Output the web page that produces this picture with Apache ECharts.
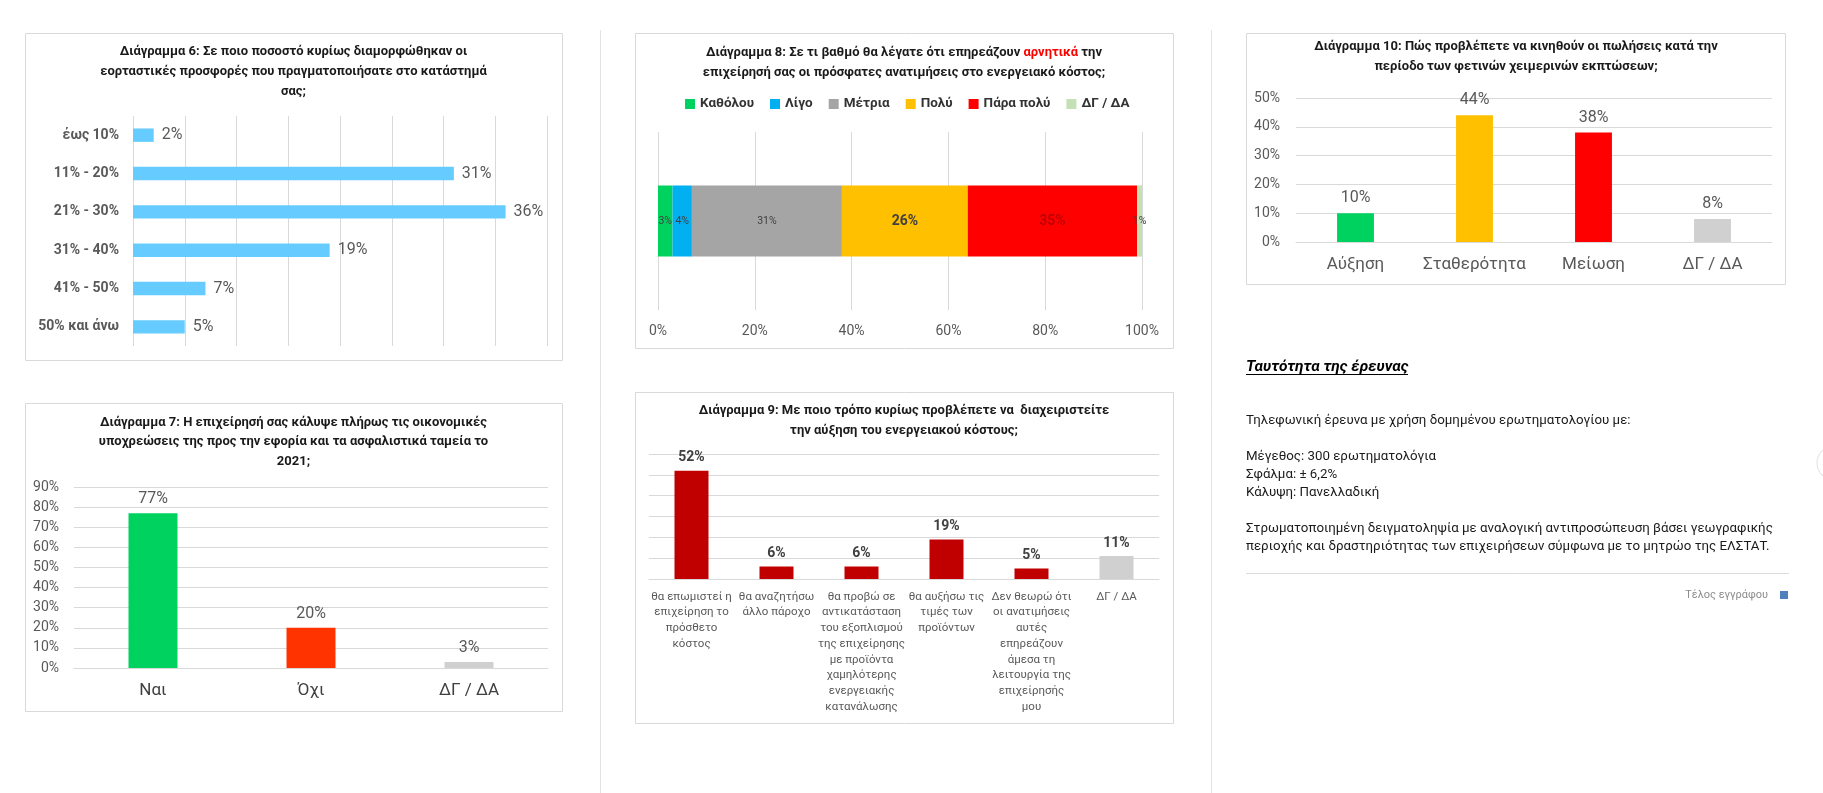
<!DOCTYPE html>
<html>
<head>
<meta charset="utf-8">
<script src="https://cdn.jsdelivr.net/npm/echarts@6/dist/echarts.min.js"></script>
<style>
html,body{margin:0;padding:0;background:#fff;}
#main{width:1823px;height:793px;}
</style>
</head>
<body>
<div id="main"></div>
<script>
// ---- data ----
const c6Categories = ['έως 10%', '11% - 20%', '21% - 30%', '31% - 40%', '41% - 50%', '50% και άνω'];
const c6Values = [2, 31, 36, 19, 7, 5];

const c7Categories = ['Ναι', 'Όχι', 'ΔΓ / ΔΑ'];
const c7Values = [77, 20, 3];

const c8Series = ['Καθόλου', 'Λίγο', 'Μέτρια', 'Πολύ', 'Πάρα πολύ', 'ΔΓ / ΔΑ'];
const c8Values = [3, 4, 31, 26, 35, 1];

const c9Categories = [
  'θα επωμιστεί η\nεπιχείρηση το\nπρόσθετο\nκόστος',
  'θα αναζητήσω\nάλλο πάροχο',
  'θα προβώ σε\nαντικατάσταση\nτου εξοπλισμού\nτης επιχείρησης\nμε προϊόντα\nχαμηλότερης\nενεργειακής\nκατανάλωσης',
  'θα αυξήσω τις\nτιμές των\nπροϊόντων',
  'Δεν θεωρώ ότι\nοι ανατιμήσεις\nαυτές\nεπηρεάζουν\nάμεσα τη\nλειτουργία της\nεπιχείρησής\nμου',
  'ΔΓ / ΔΑ'
];
const c9Values = [52, 6, 6, 19, 5, 11];

const c10Categories = ['Αύξηση', 'Σταθερότητα', 'Μείωση', 'ΔΓ / ΔΑ'];
const c10Values = [10, 44, 38, 8];

const infoLines = [
  'Τηλεφωνική έρευνα με χρήση δομημένου ερωτηματολογίου με:',
  '',
  'Μέγεθος: 300 ερωτηματολόγια',
  'Σφάλμα: ± 6,2%',
  'Κάλυψη: Πανελλαδική',
  '',
  'Στρωματοποιημένη δειγματοληψία με αναλογική αντιπροσώπευση βάσει γεωγραφικής',
  'περιοχής και δραστηριότητας των επιχειρήσεων σύμφωνα με το μητρώο της ΕΛΣΤΑΤ.'
];

// ---- styles ----
const FONT = 'Roboto, "Noto Sans", sans-serif';
const c7Colors = ['#00D25F', '#FF3300', '#D0D0D0'];
const c8Colors = ['#00D25F', '#00B0F0', '#A5A5A5', '#FFC000', '#FF0000', '#C5E0B4'];
const c9Colors = ['#C00000', '#C00000', '#C00000', '#C00000', '#C00000', '#D0D0D0'];
const c10Colors = ['#00D25F', '#FFC000', '#FF0000', '#D0D0D0'];
const GRID = '#D9D9D9';
const splitL = { show: true, lineStyle: { color: GRID, width: 1 } };

const chart = echarts.init(document.getElementById('main'), null, { renderer: 'canvas' });

function box(x, y, w, h) {
  return { type: 'rect', silent: true, shape: { x: x + 0.5, y: y + 0.5, width: w, height: h }, style: { fill: 'none', stroke: '#D9D9D9', lineWidth: 1 } };
}
function titleText(x, y, text, lh, rich) {
  const st = { text: text, x: 0, y: 0, textAlign: 'center', textVerticalAlign: 'middle', font: 'bold 13px ' + FONT, fill: '#1a1a1a', lineHeight: lh };
  if (rich) st.rich = rich;
  return { type: 'text', silent: true, x: x, y: y, style: st };
}

const c8SeriesList = c8Series.map(function (name, i) {
  let lab = { show: true, position: 'inside', formatter: '{c}%', fontFamily: FONT, fontSize: 10.5, color: '#404040' };
  if (i === 3) lab = { show: true, position: 'inside', formatter: '{c}%', fontFamily: FONT, fontSize: 14, fontWeight: 'bold', color: '#404040' };
  if (i === 4) lab = { show: true, position: 'inside', formatter: '{c}%', fontFamily: FONT, fontSize: 14, fontWeight: 'bold', color: '#C00000' };
  return {
    name: name, type: 'bar', stack: 'total', xAxisIndex: 2, yAxisIndex: 2,
    barWidth: '40%', itemStyle: { color: c8Colors[i] }, label: lab,
    data: [c8Values[i]]
  };
});

const infoGraphics = [];
const infoY = [421, 439, 457, 475, 493, 511, 529, 547];
infoLines.forEach(function (t, i) {
  if (!t) return;
  infoGraphics.push({ type: 'text', silent: true, x: 1246, y: infoY[i], style: { text: t, font: '13.3px ' + FONT, fill: '#1a1a1a', textVerticalAlign: 'middle' } });
});

const option = {
  animation: false,
  backgroundColor: '#ffffff',
  textStyle: { fontFamily: FONT },
  legend: {
    data: c8Series, left: 685, top: 97, padding: 0, itemGap: 16, itemWidth: 10, itemHeight: 10,
    icon: 'rect', textStyle: { fontFamily: FONT, fontSize: 13.5, fontWeight: 'bold', color: '#333' }, selectedMode: false
  },
  grid: [
    { left: 133, top: 116, width: 414, height: 230 },
    { left: 74, top: 487, width: 474, height: 181 },
    { left: 658, top: 132, width: 484, height: 178 },
    { left: 649, top: 454, width: 510, height: 125 },
    { left: 1296, top: 98, width: 476, height: 144 }
  ],
  xAxis: [
    { gridIndex: 0, type: 'value', min: 0, max: 40, interval: 5, axisLabel: { show: false }, axisLine: { show: false }, axisTick: { show: false }, splitLine: splitL },
    { gridIndex: 1, type: 'category', data: c7Categories, axisLine: { lineStyle: { color: GRID } }, axisTick: { show: false }, axisLabel: { interval: 0, fontFamily: FONT, fontSize: 17, color: '#404040', margin: 14 } },
    { gridIndex: 2, type: 'value', min: 0, max: 100, interval: 20, axisLine: { show: false }, axisTick: { show: false }, splitLine: splitL, axisLabel: { formatter: '{value}%', fontFamily: FONT, fontSize: 14, color: '#595959', margin: 14 } },
    { gridIndex: 3, type: 'category', data: c9Categories, axisLine: { lineStyle: { color: GRID } }, axisTick: { show: false }, axisLabel: { interval: 0, fontFamily: FONT, fontSize: 11.5, lineHeight: 15.7, color: '#595959', margin: 10 } },
    { gridIndex: 4, type: 'category', data: c10Categories, axisLine: { lineStyle: { color: GRID } }, axisTick: { show: false }, axisLabel: { interval: 0, fontFamily: FONT, fontSize: 17, color: '#595959', margin: 14 } }
  ],
  yAxis: [
    { gridIndex: 0, type: 'category', data: c6Categories, inverse: true, axisLine: { show: false }, axisTick: { show: false }, axisLabel: { fontFamily: FONT, fontSize: 14, fontWeight: 'bold', color: '#595959', margin: 14 } },
    { gridIndex: 1, type: 'value', min: 0, max: 90, interval: 10, axisLine: { show: false }, axisTick: { show: false }, splitLine: splitL, axisLabel: { formatter: '{value}%', fontFamily: FONT, fontSize: 14, color: '#595959', margin: 15 } },
    { gridIndex: 2, type: 'category', data: ['Ενεργειακό κόστος'], show: false },
    { gridIndex: 3, type: 'value', min: 0, max: 60, interval: 10, axisLine: { show: false }, axisTick: { show: false }, splitLine: splitL, axisLabel: { show: false } },
    { gridIndex: 4, type: 'value', min: 0, max: 50, interval: 10, axisLine: { show: false }, axisTick: { show: false }, splitLine: splitL, axisLabel: { formatter: '{value}%', fontFamily: FONT, fontSize: 14, color: '#595959', margin: 16 } }
  ],
  series: [
    {
      name: 'Διάγραμμα 6', type: 'bar', xAxisIndex: 0, yAxisIndex: 0, barWidth: '35%',
      itemStyle: { color: '#66CCFF' }, data: c6Values,
      label: { show: true, position: 'right', distance: 8, formatter: '{c}%', fontFamily: FONT, fontSize: 16, color: '#595959' }
    },
    {
      name: 'Διάγραμμα 7', type: 'bar', xAxisIndex: 1, yAxisIndex: 1, barWidth: '31%',
      data: c7Values.map(function (v, i) { return { value: v, itemStyle: { color: c7Colors[i] } }; }),
      label: { show: true, position: 'top', distance: 6, formatter: '{c}%', fontFamily: FONT, fontSize: 16, color: '#595959' }
    }
  ].concat(c8SeriesList).concat([
    {
      name: 'Διάγραμμα 9', type: 'bar', xAxisIndex: 3, yAxisIndex: 3, barWidth: '40%',
      data: c9Values.map(function (v, i) { return { value: v, itemStyle: { color: c9Colors[i] } }; }),
      label: { show: true, position: 'top', distance: 6, formatter: '{c}%', fontFamily: FONT, fontSize: 14, fontWeight: 'bold', color: '#404040' }
    },
    {
      name: 'Διάγραμμα 10', type: 'bar', xAxisIndex: 4, yAxisIndex: 4, barWidth: '31%',
      data: c10Values.map(function (v, i) { return { value: v, itemStyle: { color: c10Colors[i] } }; }),
      label: { show: true, position: 'top', distance: 7, formatter: '{c}%', fontFamily: FONT, fontSize: 16, color: '#595959' }
    }
  ]),
  graphic: [
    { type: 'line', silent: true, shape: { x1: 600.5, y1: 30, x2: 600.5, y2: 793 }, style: { stroke: '#E3E3E3', lineWidth: 1 } },
    { type: 'line', silent: true, shape: { x1: 1211.5, y1: 30, x2: 1211.5, y2: 793 }, style: { stroke: '#E3E3E3', lineWidth: 1 } },
    box(25, 33, 537, 327),
    box(25, 403, 537, 308),
    box(635, 33, 538, 315),
    box(635, 392, 538, 331),
    box(1246, 33, 539, 251),
    titleText(293.5, 72, 'Διάγραμμα 6: Σε ποιο ποσοστό κυρίως διαμορφώθηκαν οι\nεορταστικές προσφορές που πραγματοποιήσατε στο κατάστημά\nσας;', 20),
    titleText(293.5, 442, 'Διάγραμμα 7: Η επιχείρησή σας κάλυψε πλήρως τις οικονομικές\nυποχρεώσεις της προς την εφορία και τα ασφαλιστικά ταμεία το\n2021;', 19.5),
    titleText(904, 62.5, '{b|Διάγραμμα 8: Σε τι βαθμό θα λέγατε ότι επηρεάζουν }{r|αρνητικά}{b| την}\n{b|επιχείρησή σας οι πρόσφατες ανατιμήσεις στο ενεργειακό κόστος;}', 19.5,
      { b: { font: 'bold 13px ' + FONT, fill: '#1a1a1a', lineHeight: 19.5 }, r: { font: 'bold 13px ' + FONT, fill: '#FF0000', lineHeight: 19.5 } }),
    titleText(904, 421, 'Διάγραμμα 9: Με ποιο τρόπο κυρίως προβλέπετε να  διαχειριστείτε\nτην αύξηση του ενεργειακού κόστους;', 20),
    titleText(1516, 57, 'Διάγραμμα 10: Πώς προβλέπετε να κινηθούν οι πωλήσεις κατά την\nπερίοδο των φετινών χειμερινών εκπτώσεων;', 20),
    { type: 'text', silent: true, x: 1246, y: 367, style: { text: 'Ταυτότητα της έρευνας', font: 'italic bold 15.5px ' + FONT, fill: '#000', textVerticalAlign: 'middle' } },
    { type: 'line', silent: true, shape: { x1: 1246, y1: 374.5, x2: 1408, y2: 374.5 }, style: { stroke: '#000', lineWidth: 1 } },
    { type: 'line', silent: true, shape: { x1: 1246, y1: 573.5, x2: 1789, y2: 573.5 }, style: { stroke: '#DDDDDD', lineWidth: 1 } },
    { type: 'text', silent: true, x: 1768, y: 595, style: { text: 'Τέλος εγγράφου', font: '11px ' + FONT, fill: '#8C8C8C', textAlign: 'right', textVerticalAlign: 'middle' } },
    { type: 'rect', silent: true, shape: { x: 1780, y: 591, width: 8, height: 8 }, style: { fill: '#4F81BD' } },
    { type: 'circle', silent: true, shape: { cx: 1834, cy: 463, r: 17 }, style: { fill: '#fff', stroke: '#E0E0E0', lineWidth: 1 } }
  ].concat(infoGraphics)
};
chart.setOption(option);
</script>
</body>
</html>
